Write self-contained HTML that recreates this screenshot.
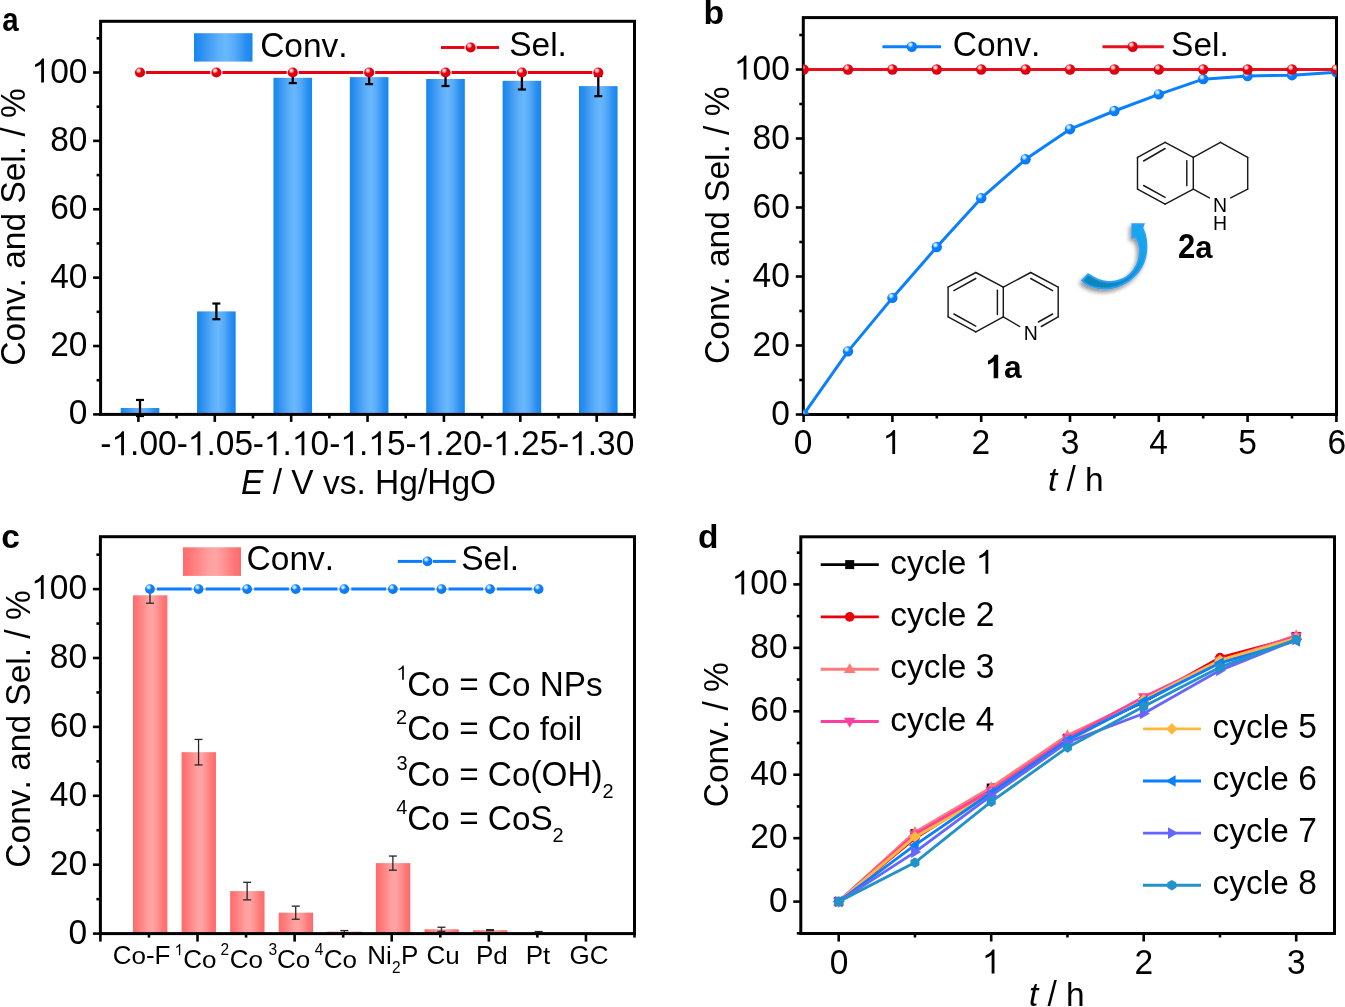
<!DOCTYPE html>
<html><head><meta charset="utf-8"><style>
html,body{margin:0;padding:0;background:#fff;overflow:hidden;}
svg{display:block;will-change:transform;}
text{font-family:"Liberation Sans", sans-serif;fill:#000;font-kerning:none;}
</style></head><body>
<svg width="1345" height="1007" viewBox="0 0 1345 1007">
<defs>
<radialGradient id="sphR" cx="0.38" cy="0.33" r="0.7" fx="0.36" fy="0.3">
 <stop offset="0" stop-color="#ffffff"/><stop offset="0.2" stop-color="#fbb0b0"/><stop offset="0.42" stop-color="#e8000f"/><stop offset="1" stop-color="#d8000e"/>
</radialGradient>
<radialGradient id="sphB" cx="0.38" cy="0.33" r="0.7" fx="0.36" fy="0.3">
 <stop offset="0" stop-color="#ffffff"/><stop offset="0.2" stop-color="#a8d4ff"/><stop offset="0.42" stop-color="#0a80ff"/><stop offset="1" stop-color="#0a78f0"/>
</radialGradient>
<linearGradient id="barB" x1="0" x2="1" y1="0" y2="0">
 <stop offset="0" stop-color="#1487ee"/><stop offset="0.12" stop-color="#2a8ef0"/><stop offset="0.3" stop-color="#4ca2f4"/><stop offset="0.45" stop-color="#62b2fb"/><stop offset="0.55" stop-color="#68b8fd"/><stop offset="0.7" stop-color="#56aaf8"/><stop offset="0.88" stop-color="#2a8ef0"/><stop offset="1" stop-color="#1487ee"/>
</linearGradient>
<linearGradient id="barR" x1="0" x2="1" y1="0" y2="0">
 <stop offset="0" stop-color="#ff6b6b"/><stop offset="0.12" stop-color="#ff7676"/><stop offset="0.3" stop-color="#ff8c8c"/><stop offset="0.45" stop-color="#ffa0a0"/><stop offset="0.58" stop-color="#ffa3a3"/><stop offset="0.72" stop-color="#ff9090"/><stop offset="0.88" stop-color="#ff7676"/><stop offset="1" stop-color="#ff6a6a"/>
</linearGradient>
<linearGradient id="arrG" gradientUnits="userSpaceOnUse" x1="1100" y1="288" x2="1140" y2="225">
 <stop offset="0" stop-color="#0886b8"/><stop offset="0.35" stop-color="#0a90c8"/><stop offset="0.6" stop-color="#12a0e4"/><stop offset="1" stop-color="#14a8f0"/>
</linearGradient>
<filter id="shadow" x="-30%" y="-30%" width="160%" height="160%">
 <feGaussianBlur in="SourceAlpha" stdDeviation="2.3"/><feOffset dx="-2" dy="3" result="ob"/>
 <feComponentTransfer><feFuncA type="linear" slope="0.42"/></feComponentTransfer>
 <feMerge><feMergeNode/><feMergeNode in="SourceGraphic"/></feMerge>
</filter>
</defs>
<rect width="1345" height="1007" fill="#fff"/>
<rect x="120.70" y="408.01" width="38.6" height="6.39" fill="url(#barB)"/>
<rect x="197.08" y="311.39" width="38.6" height="103.01" fill="url(#barB)"/>
<rect x="273.46" y="77.80" width="38.6" height="336.60" fill="url(#barB)"/>
<rect x="349.84" y="77.12" width="38.6" height="337.28" fill="url(#barB)"/>
<rect x="426.22" y="79.00" width="38.6" height="335.40" fill="url(#barB)"/>
<rect x="502.60" y="80.81" width="38.6" height="333.59" fill="url(#barB)"/>
<rect x="578.98" y="86.11" width="38.6" height="328.29" fill="url(#barB)"/>
<line x1="140.00" y1="399.97" x2="140.00" y2="416.04" stroke="#000" stroke-width="2.3"/>
<line x1="136.00" y1="399.97" x2="144.00" y2="399.97" stroke="#000" stroke-width="2.2"/>
<line x1="136.00" y1="416.04" x2="144.00" y2="416.04" stroke="#000" stroke-width="2.2"/>
<line x1="216.38" y1="303.52" x2="216.38" y2="319.25" stroke="#000" stroke-width="2.3"/>
<line x1="212.38" y1="303.52" x2="220.38" y2="303.52" stroke="#000" stroke-width="2.2"/>
<line x1="212.38" y1="319.25" x2="220.38" y2="319.25" stroke="#000" stroke-width="2.2"/>
<line x1="292.76" y1="72.50" x2="292.76" y2="83.10" stroke="#000" stroke-width="2.3"/>
<line x1="288.76" y1="72.50" x2="296.76" y2="72.50" stroke="#000" stroke-width="2.2"/>
<line x1="288.76" y1="83.10" x2="296.76" y2="83.10" stroke="#000" stroke-width="2.2"/>
<line x1="369.14" y1="70.11" x2="369.14" y2="84.12" stroke="#000" stroke-width="2.3"/>
<line x1="365.14" y1="70.11" x2="373.14" y2="70.11" stroke="#000" stroke-width="2.2"/>
<line x1="365.14" y1="84.12" x2="373.14" y2="84.12" stroke="#000" stroke-width="2.2"/>
<line x1="445.52" y1="71.99" x2="445.52" y2="86.01" stroke="#000" stroke-width="2.3"/>
<line x1="441.52" y1="71.99" x2="449.52" y2="71.99" stroke="#000" stroke-width="2.2"/>
<line x1="441.52" y1="86.01" x2="449.52" y2="86.01" stroke="#000" stroke-width="2.2"/>
<line x1="521.90" y1="72.12" x2="521.90" y2="89.49" stroke="#000" stroke-width="2.3"/>
<line x1="517.90" y1="72.12" x2="525.90" y2="72.12" stroke="#000" stroke-width="2.2"/>
<line x1="517.90" y1="89.49" x2="525.90" y2="89.49" stroke="#000" stroke-width="2.2"/>
<line x1="598.28" y1="76.02" x2="598.28" y2="96.19" stroke="#000" stroke-width="2.3"/>
<line x1="594.28" y1="76.02" x2="602.28" y2="76.02" stroke="#000" stroke-width="2.2"/>
<line x1="594.28" y1="96.19" x2="602.28" y2="96.19" stroke="#000" stroke-width="2.2"/>
<line x1="146.00" y1="72.50" x2="210.38" y2="72.50" stroke="#e60012" stroke-width="2.9"/>
<line x1="222.38" y1="72.50" x2="286.76" y2="72.50" stroke="#e60012" stroke-width="2.9"/>
<line x1="298.76" y1="72.50" x2="363.14" y2="72.50" stroke="#e60012" stroke-width="2.9"/>
<line x1="375.14" y1="72.50" x2="439.52" y2="72.50" stroke="#e60012" stroke-width="2.9"/>
<line x1="451.52" y1="72.50" x2="515.90" y2="72.50" stroke="#e60012" stroke-width="2.9"/>
<line x1="527.90" y1="72.50" x2="592.28" y2="72.50" stroke="#e60012" stroke-width="2.9"/>
<circle cx="140.00" cy="72.50" r="5.10" fill="url(#sphR)"/>
<circle cx="216.38" cy="72.50" r="5.10" fill="url(#sphR)"/>
<circle cx="292.76" cy="72.50" r="5.10" fill="url(#sphR)"/>
<circle cx="369.14" cy="72.50" r="5.10" fill="url(#sphR)"/>
<circle cx="445.52" cy="72.50" r="5.10" fill="url(#sphR)"/>
<circle cx="521.90" cy="72.50" r="5.10" fill="url(#sphR)"/>
<circle cx="598.28" cy="72.50" r="5.10" fill="url(#sphR)"/>
<rect x="100.6" y="21.3" width="533.90" height="393.10" fill="none" stroke="#000" stroke-width="3.0"/>
<line x1="93.10" y1="414.40" x2="100.60" y2="414.40" stroke="#000" stroke-width="2.6"/>
<line x1="96.60" y1="380.21" x2="100.60" y2="380.21" stroke="#000" stroke-width="2.6"/>
<line x1="93.10" y1="346.02" x2="100.60" y2="346.02" stroke="#000" stroke-width="2.6"/>
<line x1="96.60" y1="311.83" x2="100.60" y2="311.83" stroke="#000" stroke-width="2.6"/>
<line x1="93.10" y1="277.64" x2="100.60" y2="277.64" stroke="#000" stroke-width="2.6"/>
<line x1="96.60" y1="243.45" x2="100.60" y2="243.45" stroke="#000" stroke-width="2.6"/>
<line x1="93.10" y1="209.26" x2="100.60" y2="209.26" stroke="#000" stroke-width="2.6"/>
<line x1="96.60" y1="175.07" x2="100.60" y2="175.07" stroke="#000" stroke-width="2.6"/>
<line x1="93.10" y1="140.88" x2="100.60" y2="140.88" stroke="#000" stroke-width="2.6"/>
<line x1="96.60" y1="106.69" x2="100.60" y2="106.69" stroke="#000" stroke-width="2.6"/>
<line x1="93.10" y1="72.50" x2="100.60" y2="72.50" stroke="#000" stroke-width="2.6"/>
<line x1="96.60" y1="38.31" x2="100.60" y2="38.31" stroke="#000" stroke-width="2.6"/>
<text transform=" translate(68.78,424.40) scale(1.0,1.045)" font-size="33.5" fill="#000">0</text>
<text transform=" translate(50.15,356.02) scale(1.0,1.045)" font-size="33.5" fill="#000">20</text>
<text transform=" translate(50.15,287.64) scale(1.0,1.045)" font-size="33.5" fill="#000">40</text>
<text transform=" translate(50.15,219.26) scale(1.0,1.045)" font-size="33.5" fill="#000">60</text>
<text transform=" translate(50.15,150.88) scale(1.0,1.045)" font-size="33.5" fill="#000">80</text>
<path transform=" translate(31.52,82.50) scale(0.01636,-0.01636)" d="M590,0 L763,0 L763,1466 L651,1466 C606,1380 466,1200 216,1102 L216,947 C366,1000 496,1070 590,1138 Z" fill="#000"/>
<text transform=" translate(50.15,82.50) scale(1.0,1.045)" font-size="33.5" fill="#000">00</text>
<line x1="138.40" y1="414.40" x2="138.40" y2="421.90" stroke="#000" stroke-width="2.6"/>
<line x1="214.78" y1="414.40" x2="214.78" y2="421.90" stroke="#000" stroke-width="2.6"/>
<line x1="291.16" y1="414.40" x2="291.16" y2="421.90" stroke="#000" stroke-width="2.6"/>
<line x1="367.54" y1="414.40" x2="367.54" y2="421.90" stroke="#000" stroke-width="2.6"/>
<line x1="443.92" y1="414.40" x2="443.92" y2="421.90" stroke="#000" stroke-width="2.6"/>
<line x1="520.30" y1="414.40" x2="520.30" y2="421.90" stroke="#000" stroke-width="2.6"/>
<line x1="596.68" y1="414.40" x2="596.68" y2="421.90" stroke="#000" stroke-width="2.6"/>
<line x1="176.59" y1="414.40" x2="176.59" y2="418.40" stroke="#000" stroke-width="2.6"/>
<line x1="252.97" y1="414.40" x2="252.97" y2="418.40" stroke="#000" stroke-width="2.6"/>
<line x1="329.35" y1="414.40" x2="329.35" y2="418.40" stroke="#000" stroke-width="2.6"/>
<line x1="405.73" y1="414.40" x2="405.73" y2="418.40" stroke="#000" stroke-width="2.6"/>
<line x1="482.11" y1="414.40" x2="482.11" y2="418.40" stroke="#000" stroke-width="2.6"/>
<line x1="558.49" y1="414.40" x2="558.49" y2="418.40" stroke="#000" stroke-width="2.6"/>
<line x1="634.50" y1="414.40" x2="634.50" y2="418.40" stroke="#000" stroke-width="2.6"/>
<text transform=" translate(100.33,455.20) scale(1.0,1.045)" font-size="33.5" fill="#000">-</text>
<path transform=" translate(111.49,455.20) scale(0.01636,-0.01636)" d="M590,0 L763,0 L763,1466 L651,1466 C606,1380 466,1200 216,1102 L216,947 C366,1000 496,1070 590,1138 Z" fill="#000"/>
<text transform=" translate(130.12,455.20) scale(1.0,1.045)" font-size="33.5" fill="#000">.00</text>
<text transform=" translate(176.66,455.20) scale(1.0,1.045)" font-size="33.5" fill="#000">-</text>
<path transform=" translate(187.82,455.20) scale(0.01636,-0.01636)" d="M590,0 L763,0 L763,1466 L651,1466 C606,1380 466,1200 216,1102 L216,947 C366,1000 496,1070 590,1138 Z" fill="#000"/>
<text transform=" translate(206.45,455.20) scale(1.0,1.045)" font-size="33.5" fill="#000">.05</text>
<text transform=" translate(252.79,455.20) scale(1.0,1.045)" font-size="33.5" fill="#000">-</text>
<path transform=" translate(263.95,455.20) scale(0.01636,-0.01636)" d="M590,0 L763,0 L763,1466 L651,1466 C606,1380 466,1200 216,1102 L216,947 C366,1000 496,1070 590,1138 Z" fill="#000"/>
<text transform=" translate(282.58,455.20) scale(1.0,1.045)" font-size="33.5" fill="#000">.</text>
<path transform=" translate(291.89,455.20) scale(0.01636,-0.01636)" d="M590,0 L763,0 L763,1466 L651,1466 C606,1380 466,1200 216,1102 L216,947 C366,1000 496,1070 590,1138 Z" fill="#000"/>
<text transform=" translate(310.52,455.20) scale(1.0,1.045)" font-size="33.5" fill="#000">0</text>
<text transform=" translate(329.22,455.20) scale(1.0,1.045)" font-size="33.5" fill="#000">-</text>
<path transform=" translate(340.38,455.20) scale(0.01636,-0.01636)" d="M590,0 L763,0 L763,1466 L651,1466 C606,1380 466,1200 216,1102 L216,947 C366,1000 496,1070 590,1138 Z" fill="#000"/>
<text transform=" translate(359.01,455.20) scale(1.0,1.045)" font-size="33.5" fill="#000">.</text>
<path transform=" translate(368.32,455.20) scale(0.01636,-0.01636)" d="M590,0 L763,0 L763,1466 L651,1466 C606,1380 466,1200 216,1102 L216,947 C366,1000 496,1070 590,1138 Z" fill="#000"/>
<text transform=" translate(386.95,455.20) scale(1.0,1.045)" font-size="33.5" fill="#000">5</text>
<text transform=" translate(405.50,455.20) scale(1.0,1.045)" font-size="33.5" fill="#000">-</text>
<path transform=" translate(416.66,455.20) scale(0.01636,-0.01636)" d="M590,0 L763,0 L763,1466 L651,1466 C606,1380 466,1200 216,1102 L216,947 C366,1000 496,1070 590,1138 Z" fill="#000"/>
<text transform=" translate(435.29,455.20) scale(1.0,1.045)" font-size="33.5" fill="#000">.20</text>
<text transform=" translate(481.93,455.20) scale(1.0,1.045)" font-size="33.5" fill="#000">-</text>
<path transform=" translate(493.09,455.20) scale(0.01636,-0.01636)" d="M590,0 L763,0 L763,1466 L651,1466 C606,1380 466,1200 216,1102 L216,947 C366,1000 496,1070 590,1138 Z" fill="#000"/>
<text transform=" translate(511.72,455.20) scale(1.0,1.045)" font-size="33.5" fill="#000">.25</text>
<text transform=" translate(558.01,455.20) scale(1.0,1.045)" font-size="33.5" fill="#000">-</text>
<path transform=" translate(569.17,455.20) scale(0.01636,-0.01636)" d="M590,0 L763,0 L763,1466 L651,1466 C606,1380 466,1200 216,1102 L216,947 C366,1000 496,1070 590,1138 Z" fill="#000"/>
<text transform=" translate(587.80,455.20) scale(1.0,1.045)" font-size="33.5" fill="#000">.30</text>
<text transform=" translate(241.05,493.60) scale(1.0,1.045)" font-size="33.5" font-style="italic" fill="#000">E</text>
<text transform=" translate(272.70,493.60) scale(1.0,1.045)" font-size="33.5" fill="#000">/</text>
<text transform=" translate(291.32,493.60) scale(1.0,1.045)" font-size="33.5" fill="#000">V</text>
<text transform=" translate(322.97,493.60) scale(1.0,0.98)" font-size="33.5" fill="#000">vs</text>
<text transform=" translate(356.47,493.60) scale(1.0,1.045)" font-size="33.5" fill="#000">.</text>
<text transform=" translate(375.08,493.60) scale(1.0,1.045)" font-size="33.5" fill="#000">H</text>
<text transform=" translate(399.27,493.60) scale(1.0,0.98)" font-size="33.5" fill="#000">g</text>
<text transform=" translate(417.91,493.60) scale(1.0,1.045)" font-size="33.5" fill="#000">/H</text>
<text transform=" translate(451.41,493.60) scale(1.0,0.98)" font-size="33.5" fill="#000">g</text>
<text transform=" translate(470.04,493.60) scale(1.0,1.045)" font-size="33.5" fill="#000">O</text>
<text transform="translate(25.20,226.65) rotate(-90) translate(-138.98,0.00) scale(1.0,1.045)" font-size="33.5" fill="#000">C</text>
<text transform="translate(25.20,226.65) rotate(-90) translate(-114.79,0.00) scale(1.0,0.98)" font-size="33.5" fill="#000">onv</text>
<text transform="translate(25.20,226.65) rotate(-90) translate(-60.78,0.00) scale(1.0,1.045)" font-size="33.5" fill="#000">.</text>
<text transform="translate(25.20,226.65) rotate(-90) translate(-42.16,0.00) scale(1.0,0.98)" font-size="33.5" fill="#000">and</text>
<text transform="translate(25.20,226.65) rotate(-90) translate(23.04,0.00) scale(1.0,1.045)" font-size="33.5" fill="#000">S</text>
<text transform="translate(25.20,226.65) rotate(-90) translate(45.38,0.00) scale(1.0,0.98)" font-size="33.5" fill="#000">el</text>
<text transform="translate(25.20,226.65) rotate(-90) translate(71.46,0.00) scale(1.0,1.045)" font-size="33.5" fill="#000">.</text>
<text transform="translate(25.20,226.65) rotate(-90) translate(90.07,0.00) scale(1.0,1.045)" font-size="33.5" fill="#000">/</text>
<text transform="translate(25.20,226.65) rotate(-90) translate(108.69,0.00) scale(1.0,1.045)" font-size="33.5" fill="#000">%</text>
<rect x="194" y="33.2" width="58.5" height="28.4" fill="url(#barB)"/>
<text transform=" translate(260.14,56.60) scale(1.0,1.045)" font-size="33.5" fill="#000">C</text>
<text transform=" translate(284.33,56.60) scale(1.0,0.98)" font-size="33.5" fill="#000">onv</text>
<text transform=" translate(338.34,56.60) scale(1.0,1.045)" font-size="33.5" fill="#000">.</text>
<line x1="441.00" y1="47.50" x2="464.50" y2="47.50" stroke="#e60012" stroke-width="2.9"/>
<line x1="476.70" y1="47.50" x2="499.00" y2="47.50" stroke="#e60012" stroke-width="2.9"/>
<circle cx="470.60" cy="47.50" r="5.10" fill="url(#sphR)"/>
<text transform=" translate(509.18,56.40) scale(1.0,1.045)" font-size="33.5" fill="#000">S</text>
<text transform=" translate(531.52,56.40) scale(1.0,0.98)" font-size="33.5" fill="#000">el</text>
<text transform=" translate(557.60,56.40) scale(1.0,1.045)" font-size="33.5" fill="#000">.</text>
<text transform=" translate(2.34,30.50) scale(0.95,1.045)" font-size="31" font-weight="bold" fill="#000">a</text>
<rect x="803.3" y="17.6" width="533.20" height="396.90" fill="none" stroke="#000" stroke-width="3.0"/>
<clipPath id="clipB"><rect x="803.30" y="17.60" width="533.20" height="396.90"/></clipPath>
<g clip-path="url(#clipB)">
<polyline points="803.60,414.50 848.00,351.37 892.40,297.89 936.80,247.00 981.20,198.18 1025.60,159.30 1070.00,129.19 1114.40,111.00 1158.80,94.34 1203.20,79.16 1247.60,76.06 1292.00,75.19 1336.40,72.26" fill="none" stroke="#0a80ff" stroke-width="3" stroke-linejoin="round"/>
<circle cx="803.60" cy="414.50" r="5.20" fill="url(#sphB)"/>
<circle cx="848.00" cy="351.37" r="5.20" fill="url(#sphB)"/>
<circle cx="892.40" cy="297.89" r="5.20" fill="url(#sphB)"/>
<circle cx="936.80" cy="247.00" r="5.20" fill="url(#sphB)"/>
<circle cx="981.20" cy="198.18" r="5.20" fill="url(#sphB)"/>
<circle cx="1025.60" cy="159.30" r="5.20" fill="url(#sphB)"/>
<circle cx="1070.00" cy="129.19" r="5.20" fill="url(#sphB)"/>
<circle cx="1114.40" cy="111.00" r="5.20" fill="url(#sphB)"/>
<circle cx="1158.80" cy="94.34" r="5.20" fill="url(#sphB)"/>
<circle cx="1203.20" cy="79.16" r="5.20" fill="url(#sphB)"/>
<circle cx="1247.60" cy="76.06" r="5.20" fill="url(#sphB)"/>
<circle cx="1292.00" cy="75.19" r="5.20" fill="url(#sphB)"/>
<circle cx="1336.40" cy="72.26" r="5.20" fill="url(#sphB)"/>
<line x1="803.30" y1="69.50" x2="1336.50" y2="69.50" stroke="#e8101e" stroke-width="3"/>
<circle cx="803.60" cy="69.50" r="5.20" fill="url(#sphR)"/>
<circle cx="848.00" cy="69.50" r="5.20" fill="url(#sphR)"/>
<circle cx="892.40" cy="69.50" r="5.20" fill="url(#sphR)"/>
<circle cx="936.80" cy="69.50" r="5.20" fill="url(#sphR)"/>
<circle cx="981.20" cy="69.50" r="5.20" fill="url(#sphR)"/>
<circle cx="1025.60" cy="69.50" r="5.20" fill="url(#sphR)"/>
<circle cx="1070.00" cy="69.50" r="5.20" fill="url(#sphR)"/>
<circle cx="1114.40" cy="69.50" r="5.20" fill="url(#sphR)"/>
<circle cx="1158.80" cy="69.50" r="5.20" fill="url(#sphR)"/>
<circle cx="1203.20" cy="69.50" r="5.20" fill="url(#sphR)"/>
<circle cx="1247.60" cy="69.50" r="5.20" fill="url(#sphR)"/>
<circle cx="1292.00" cy="69.50" r="5.20" fill="url(#sphR)"/>
<circle cx="1336.40" cy="69.50" r="5.20" fill="url(#sphR)"/>
</g>
<line x1="795.80" y1="414.50" x2="803.30" y2="414.50" stroke="#000" stroke-width="2.6"/>
<line x1="799.30" y1="380.00" x2="803.30" y2="380.00" stroke="#000" stroke-width="2.6"/>
<line x1="795.80" y1="345.50" x2="803.30" y2="345.50" stroke="#000" stroke-width="2.6"/>
<line x1="799.30" y1="311.00" x2="803.30" y2="311.00" stroke="#000" stroke-width="2.6"/>
<line x1="795.80" y1="276.50" x2="803.30" y2="276.50" stroke="#000" stroke-width="2.6"/>
<line x1="799.30" y1="242.00" x2="803.30" y2="242.00" stroke="#000" stroke-width="2.6"/>
<line x1="795.80" y1="207.50" x2="803.30" y2="207.50" stroke="#000" stroke-width="2.6"/>
<line x1="799.30" y1="173.00" x2="803.30" y2="173.00" stroke="#000" stroke-width="2.6"/>
<line x1="795.80" y1="138.50" x2="803.30" y2="138.50" stroke="#000" stroke-width="2.6"/>
<line x1="799.30" y1="104.00" x2="803.30" y2="104.00" stroke="#000" stroke-width="2.6"/>
<line x1="795.80" y1="69.50" x2="803.30" y2="69.50" stroke="#000" stroke-width="2.6"/>
<line x1="799.30" y1="35.00" x2="803.30" y2="35.00" stroke="#000" stroke-width="2.6"/>
<text transform=" translate(771.18,424.50) scale(1.0,1.045)" font-size="33.5" fill="#000">0</text>
<text transform=" translate(752.55,355.50) scale(1.0,1.045)" font-size="33.5" fill="#000">20</text>
<text transform=" translate(752.55,286.50) scale(1.0,1.045)" font-size="33.5" fill="#000">40</text>
<text transform=" translate(752.55,217.50) scale(1.0,1.045)" font-size="33.5" fill="#000">60</text>
<text transform=" translate(752.55,148.50) scale(1.0,1.045)" font-size="33.5" fill="#000">80</text>
<path transform=" translate(733.92,79.50) scale(0.01636,-0.01636)" d="M590,0 L763,0 L763,1466 L651,1466 C606,1380 466,1200 216,1102 L216,947 C366,1000 496,1070 590,1138 Z" fill="#000"/>
<text transform=" translate(752.55,79.50) scale(1.0,1.045)" font-size="33.5" fill="#000">00</text>
<line x1="803.60" y1="414.50" x2="803.60" y2="422.00" stroke="#000" stroke-width="2.6"/>
<line x1="848.00" y1="414.50" x2="848.00" y2="418.50" stroke="#000" stroke-width="2.6"/>
<line x1="892.40" y1="414.50" x2="892.40" y2="422.00" stroke="#000" stroke-width="2.6"/>
<line x1="936.80" y1="414.50" x2="936.80" y2="418.50" stroke="#000" stroke-width="2.6"/>
<line x1="981.20" y1="414.50" x2="981.20" y2="422.00" stroke="#000" stroke-width="2.6"/>
<line x1="1025.60" y1="414.50" x2="1025.60" y2="418.50" stroke="#000" stroke-width="2.6"/>
<line x1="1070.00" y1="414.50" x2="1070.00" y2="422.00" stroke="#000" stroke-width="2.6"/>
<line x1="1114.40" y1="414.50" x2="1114.40" y2="418.50" stroke="#000" stroke-width="2.6"/>
<line x1="1158.80" y1="414.50" x2="1158.80" y2="422.00" stroke="#000" stroke-width="2.6"/>
<line x1="1203.20" y1="414.50" x2="1203.20" y2="418.50" stroke="#000" stroke-width="2.6"/>
<line x1="1247.60" y1="414.50" x2="1247.60" y2="422.00" stroke="#000" stroke-width="2.6"/>
<line x1="1292.00" y1="414.50" x2="1292.00" y2="418.50" stroke="#000" stroke-width="2.6"/>
<line x1="1336.40" y1="414.50" x2="1336.40" y2="422.00" stroke="#000" stroke-width="2.6"/>
<text transform=" translate(793.78,453.90) scale(1.0,1.045)" font-size="33.5" fill="#000">0</text>
<path transform=" translate(882.64,453.90) scale(0.01636,-0.01636)" d="M590,0 L763,0 L763,1466 L651,1466 C606,1380 466,1200 216,1102 L216,947 C366,1000 496,1070 590,1138 Z" fill="#000"/>
<text transform=" translate(971.53,453.90) scale(1.0,1.045)" font-size="33.5" fill="#000">2</text>
<text transform=" translate(1060.78,453.90) scale(1.0,1.045)" font-size="33.5" fill="#000">3</text>
<text transform=" translate(1149.14,453.90) scale(1.0,1.045)" font-size="33.5" fill="#000">4</text>
<text transform=" translate(1238.32,453.90) scale(1.0,1.045)" font-size="33.5" fill="#000">5</text>
<text transform=" translate(1327.52,453.90) scale(1.0,1.045)" font-size="33.5" fill="#000">6</text>
<text transform=" translate(1047.88,490.50) scale(1.0,0.98)" font-size="33.5" font-style="italic" fill="#000">t</text>
<text transform=" translate(1066.49,490.50) scale(1.0,1.045)" font-size="33.5" fill="#000">/</text>
<text transform=" translate(1085.11,490.50) scale(1.0,0.98)" font-size="33.5" fill="#000">h</text>
<text transform="translate(728.60,224.95) rotate(-90) translate(-138.98,0.00) scale(1.0,1.045)" font-size="33.5" fill="#000">C</text>
<text transform="translate(728.60,224.95) rotate(-90) translate(-114.79,0.00) scale(1.0,0.98)" font-size="33.5" fill="#000">onv</text>
<text transform="translate(728.60,224.95) rotate(-90) translate(-60.78,0.00) scale(1.0,1.045)" font-size="33.5" fill="#000">.</text>
<text transform="translate(728.60,224.95) rotate(-90) translate(-42.16,0.00) scale(1.0,0.98)" font-size="33.5" fill="#000">and</text>
<text transform="translate(728.60,224.95) rotate(-90) translate(23.04,0.00) scale(1.0,1.045)" font-size="33.5" fill="#000">S</text>
<text transform="translate(728.60,224.95) rotate(-90) translate(45.38,0.00) scale(1.0,0.98)" font-size="33.5" fill="#000">el</text>
<text transform="translate(728.60,224.95) rotate(-90) translate(71.46,0.00) scale(1.0,1.045)" font-size="33.5" fill="#000">.</text>
<text transform="translate(728.60,224.95) rotate(-90) translate(90.07,0.00) scale(1.0,1.045)" font-size="33.5" fill="#000">/</text>
<text transform="translate(728.60,224.95) rotate(-90) translate(108.69,0.00) scale(1.0,1.045)" font-size="33.5" fill="#000">%</text>
<line x1="882.40" y1="46.70" x2="941.00" y2="46.70" stroke="#0a80ff" stroke-width="3"/>
<circle cx="911.80" cy="46.70" r="5.20" fill="url(#sphB)"/>
<text transform=" translate(952.80,55.50) scale(1.0,1.045)" font-size="33.5" fill="#000">C</text>
<text transform=" translate(976.99,55.50) scale(1.0,0.98)" font-size="33.5" fill="#000">onv</text>
<text transform=" translate(1031.00,55.50) scale(1.0,1.045)" font-size="33.5" fill="#000">.</text>
<line x1="1102.50" y1="46.70" x2="1163.80" y2="46.70" stroke="#e8101e" stroke-width="3"/>
<circle cx="1132.70" cy="46.70" r="5.20" fill="url(#sphR)"/>
<text transform=" translate(1171.08,55.50) scale(1.0,1.045)" font-size="33.5" fill="#000">S</text>
<text transform=" translate(1193.42,55.50) scale(1.0,0.98)" font-size="33.5" fill="#000">el</text>
<text transform=" translate(1219.50,55.50) scale(1.0,1.045)" font-size="33.5" fill="#000">.</text>
<text transform=" translate(703.57,24.10) scale(1.09,1.045)" font-size="31" font-weight="bold" fill="#000">b</text>
<rect x="132.98" y="595.30" width="34.4" height="338.30" fill="url(#barR)"/>
<rect x="181.56" y="752.19" width="34.4" height="181.41" fill="url(#barR)"/>
<rect x="230.14" y="891.09" width="34.4" height="42.51" fill="url(#barR)"/>
<rect x="278.72" y="912.69" width="34.4" height="20.91" fill="url(#barR)"/>
<rect x="327.30" y="931.60" width="34.4" height="2.00" fill="url(#barR)"/>
<rect x="375.88" y="863.12" width="34.4" height="70.48" fill="url(#barR)"/>
<rect x="424.46" y="929.29" width="34.4" height="4.31" fill="url(#barR)"/>
<rect x="473.04" y="930.19" width="34.4" height="3.41" fill="url(#barR)"/>
<rect x="521.62" y="932.74" width="34.4" height="0.86" fill="url(#barR)"/>
<line x1="149.98" y1="587.38" x2="149.98" y2="603.22" stroke="#262626" stroke-width="1.3"/>
<line x1="145.98" y1="587.38" x2="153.98" y2="587.38" stroke="#262626" stroke-width="1.3"/>
<line x1="145.98" y1="603.22" x2="153.98" y2="603.22" stroke="#262626" stroke-width="1.3"/>
<line x1="198.56" y1="739.44" x2="198.56" y2="764.93" stroke="#262626" stroke-width="1.3"/>
<line x1="194.56" y1="739.44" x2="202.56" y2="739.44" stroke="#262626" stroke-width="1.3"/>
<line x1="194.56" y1="764.93" x2="202.56" y2="764.93" stroke="#262626" stroke-width="1.3"/>
<line x1="247.14" y1="882.30" x2="247.14" y2="899.87" stroke="#262626" stroke-width="1.3"/>
<line x1="243.14" y1="882.30" x2="251.14" y2="882.30" stroke="#262626" stroke-width="1.3"/>
<line x1="243.14" y1="899.87" x2="251.14" y2="899.87" stroke="#262626" stroke-width="1.3"/>
<line x1="295.72" y1="906.14" x2="295.72" y2="919.23" stroke="#262626" stroke-width="1.3"/>
<line x1="291.72" y1="906.14" x2="299.72" y2="906.14" stroke="#262626" stroke-width="1.3"/>
<line x1="291.72" y1="919.23" x2="299.72" y2="919.23" stroke="#262626" stroke-width="1.3"/>
<line x1="344.30" y1="930.57" x2="344.30" y2="932.64" stroke="#262626" stroke-width="1.3"/>
<line x1="340.30" y1="930.57" x2="348.30" y2="930.57" stroke="#262626" stroke-width="1.3"/>
<line x1="340.30" y1="932.64" x2="348.30" y2="932.64" stroke="#262626" stroke-width="1.3"/>
<line x1="392.88" y1="856.05" x2="392.88" y2="870.18" stroke="#262626" stroke-width="1.3"/>
<line x1="388.88" y1="856.05" x2="396.88" y2="856.05" stroke="#262626" stroke-width="1.3"/>
<line x1="388.88" y1="870.18" x2="396.88" y2="870.18" stroke="#262626" stroke-width="1.3"/>
<line x1="441.46" y1="927.23" x2="441.46" y2="931.36" stroke="#262626" stroke-width="1.3"/>
<line x1="437.46" y1="927.23" x2="445.46" y2="927.23" stroke="#262626" stroke-width="1.3"/>
<line x1="437.46" y1="931.36" x2="445.46" y2="931.36" stroke="#262626" stroke-width="1.3"/>
<line x1="490.04" y1="929.67" x2="490.04" y2="930.71" stroke="#262626" stroke-width="1.3"/>
<line x1="486.04" y1="929.67" x2="494.04" y2="929.67" stroke="#262626" stroke-width="1.3"/>
<line x1="486.04" y1="930.71" x2="494.04" y2="930.71" stroke="#262626" stroke-width="1.3"/>
<line x1="538.62" y1="931.53" x2="538.62" y2="933.94" stroke="#262626" stroke-width="1.3"/>
<line x1="534.62" y1="931.53" x2="542.62" y2="931.53" stroke="#262626" stroke-width="1.3"/>
<line x1="534.62" y1="933.94" x2="542.62" y2="933.94" stroke="#262626" stroke-width="1.3"/>
<line x1="156.98" y1="589.10" x2="191.76" y2="589.10" stroke="#0a7cff" stroke-width="3"/>
<line x1="154.48" y1="589.10" x2="156.98" y2="589.10" stroke="#888" stroke-width="0.8"/>
<line x1="191.76" y1="589.10" x2="194.06" y2="589.10" stroke="#888" stroke-width="0.8"/>
<line x1="205.56" y1="589.10" x2="240.34" y2="589.10" stroke="#0a7cff" stroke-width="3"/>
<line x1="203.06" y1="589.10" x2="205.56" y2="589.10" stroke="#888" stroke-width="0.8"/>
<line x1="240.34" y1="589.10" x2="242.64" y2="589.10" stroke="#888" stroke-width="0.8"/>
<line x1="254.14" y1="589.10" x2="288.92" y2="589.10" stroke="#0a7cff" stroke-width="3"/>
<line x1="251.64" y1="589.10" x2="254.14" y2="589.10" stroke="#888" stroke-width="0.8"/>
<line x1="288.92" y1="589.10" x2="291.22" y2="589.10" stroke="#888" stroke-width="0.8"/>
<line x1="302.72" y1="589.10" x2="337.50" y2="589.10" stroke="#0a7cff" stroke-width="3"/>
<line x1="300.22" y1="589.10" x2="302.72" y2="589.10" stroke="#888" stroke-width="0.8"/>
<line x1="337.50" y1="589.10" x2="339.80" y2="589.10" stroke="#888" stroke-width="0.8"/>
<line x1="351.30" y1="589.10" x2="386.08" y2="589.10" stroke="#0a7cff" stroke-width="3"/>
<line x1="348.80" y1="589.10" x2="351.30" y2="589.10" stroke="#888" stroke-width="0.8"/>
<line x1="386.08" y1="589.10" x2="388.38" y2="589.10" stroke="#888" stroke-width="0.8"/>
<line x1="399.88" y1="589.10" x2="434.66" y2="589.10" stroke="#0a7cff" stroke-width="3"/>
<line x1="397.38" y1="589.10" x2="399.88" y2="589.10" stroke="#888" stroke-width="0.8"/>
<line x1="434.66" y1="589.10" x2="436.96" y2="589.10" stroke="#888" stroke-width="0.8"/>
<line x1="448.46" y1="589.10" x2="483.24" y2="589.10" stroke="#0a7cff" stroke-width="3"/>
<line x1="445.96" y1="589.10" x2="448.46" y2="589.10" stroke="#888" stroke-width="0.8"/>
<line x1="483.24" y1="589.10" x2="485.54" y2="589.10" stroke="#888" stroke-width="0.8"/>
<line x1="497.04" y1="589.10" x2="531.82" y2="589.10" stroke="#0a7cff" stroke-width="3"/>
<line x1="494.54" y1="589.10" x2="497.04" y2="589.10" stroke="#888" stroke-width="0.8"/>
<line x1="531.82" y1="589.10" x2="534.12" y2="589.10" stroke="#888" stroke-width="0.8"/>
<circle cx="149.98" cy="589.10" r="4.9" fill="url(#sphB)"/>
<circle cx="198.56" cy="589.10" r="4.9" fill="url(#sphB)"/>
<circle cx="247.14" cy="589.10" r="4.9" fill="url(#sphB)"/>
<circle cx="295.72" cy="589.10" r="4.9" fill="url(#sphB)"/>
<circle cx="344.30" cy="589.10" r="4.9" fill="url(#sphB)"/>
<circle cx="392.88" cy="589.10" r="4.9" fill="url(#sphB)"/>
<circle cx="441.46" cy="589.10" r="4.9" fill="url(#sphB)"/>
<circle cx="490.04" cy="589.10" r="4.9" fill="url(#sphB)"/>
<circle cx="538.62" cy="589.10" r="4.9" fill="url(#sphB)"/>
<rect x="100.4" y="536.7" width="534.10" height="396.90" fill="none" stroke="#000" stroke-width="3.0"/>
<line x1="92.90" y1="933.60" x2="100.40" y2="933.60" stroke="#000" stroke-width="2.6"/>
<line x1="96.40" y1="899.15" x2="100.40" y2="899.15" stroke="#000" stroke-width="2.6"/>
<line x1="92.90" y1="864.70" x2="100.40" y2="864.70" stroke="#000" stroke-width="2.6"/>
<line x1="96.40" y1="830.25" x2="100.40" y2="830.25" stroke="#000" stroke-width="2.6"/>
<line x1="92.90" y1="795.80" x2="100.40" y2="795.80" stroke="#000" stroke-width="2.6"/>
<line x1="96.40" y1="761.35" x2="100.40" y2="761.35" stroke="#000" stroke-width="2.6"/>
<line x1="92.90" y1="726.90" x2="100.40" y2="726.90" stroke="#000" stroke-width="2.6"/>
<line x1="96.40" y1="692.45" x2="100.40" y2="692.45" stroke="#000" stroke-width="2.6"/>
<line x1="92.90" y1="658.00" x2="100.40" y2="658.00" stroke="#000" stroke-width="2.6"/>
<line x1="96.40" y1="623.55" x2="100.40" y2="623.55" stroke="#000" stroke-width="2.6"/>
<line x1="92.90" y1="589.10" x2="100.40" y2="589.10" stroke="#000" stroke-width="2.6"/>
<line x1="96.40" y1="554.65" x2="100.40" y2="554.65" stroke="#000" stroke-width="2.6"/>
<text transform=" translate(68.48,943.60) scale(1.0,1.045)" font-size="33.5" fill="#000">0</text>
<text transform=" translate(49.85,874.70) scale(1.0,1.045)" font-size="33.5" fill="#000">20</text>
<text transform=" translate(49.85,805.80) scale(1.0,1.045)" font-size="33.5" fill="#000">40</text>
<text transform=" translate(49.85,736.90) scale(1.0,1.045)" font-size="33.5" fill="#000">60</text>
<text transform=" translate(49.85,668.00) scale(1.0,1.045)" font-size="33.5" fill="#000">80</text>
<path transform=" translate(31.22,599.10) scale(0.01636,-0.01636)" d="M590,0 L763,0 L763,1466 L651,1466 C606,1380 466,1200 216,1102 L216,947 C366,1000 496,1070 590,1138 Z" fill="#000"/>
<text transform=" translate(49.85,599.10) scale(1.0,1.045)" font-size="33.5" fill="#000">00</text>
<line x1="100.40" y1="933.60" x2="100.40" y2="941.60" stroke="#000" stroke-width="2.6"/>
<line x1="148.95" y1="933.60" x2="148.95" y2="937.60" stroke="#000" stroke-width="2.6"/>
<line x1="197.51" y1="933.60" x2="197.51" y2="941.60" stroke="#000" stroke-width="2.6"/>
<line x1="246.06" y1="933.60" x2="246.06" y2="937.60" stroke="#000" stroke-width="2.6"/>
<line x1="294.62" y1="933.60" x2="294.62" y2="941.60" stroke="#000" stroke-width="2.6"/>
<line x1="343.17" y1="933.60" x2="343.17" y2="937.60" stroke="#000" stroke-width="2.6"/>
<line x1="391.73" y1="933.60" x2="391.73" y2="941.60" stroke="#000" stroke-width="2.6"/>
<line x1="440.28" y1="933.60" x2="440.28" y2="937.60" stroke="#000" stroke-width="2.6"/>
<line x1="488.84" y1="933.60" x2="488.84" y2="941.60" stroke="#000" stroke-width="2.6"/>
<line x1="537.39" y1="933.60" x2="537.39" y2="937.60" stroke="#000" stroke-width="2.6"/>
<line x1="585.95" y1="933.60" x2="585.95" y2="941.60" stroke="#000" stroke-width="2.6"/>
<line x1="634.50" y1="933.60" x2="634.50" y2="937.60" stroke="#000" stroke-width="2.6"/>
<text transform=" translate(112.68,964.30) scale(1.04,1.045)" font-size="25.0" fill="#000">C</text>
<text transform=" translate(131.46,964.30) scale(1.04,0.98)" font-size="25.0" fill="#000">o</text>
<text transform=" translate(145.92,964.30) scale(1.04,1.045)" font-size="25.0" fill="#000">-F</text>
<path transform=" translate(174.47,955.20) scale(0.00757,-0.00757)" d="M590,0 L763,0 L763,1466 L651,1466 C606,1380 466,1200 216,1102 L216,947 C366,1000 496,1070 590,1138 Z" fill="#000"/>
<text transform=" translate(183.18,967.80) scale(1.04,1.045)" font-size="25.0" fill="#000">C</text>
<text transform=" translate(201.96,967.80) scale(1.04,0.98)" font-size="25.0" fill="#000">o</text>
<text transform=" translate(220.52,955.20) scale(1.0,1.045)" font-size="15.5" fill="#000">2</text>
<text transform=" translate(229.78,967.80) scale(1.04,1.045)" font-size="25.0" fill="#000">C</text>
<text transform=" translate(248.56,967.80) scale(1.04,0.98)" font-size="25.0" fill="#000">o</text>
<text transform=" translate(268.51,955.20) scale(1.0,1.045)" font-size="15.5" fill="#000">3</text>
<text transform=" translate(276.88,967.80) scale(1.04,1.045)" font-size="25.0" fill="#000">C</text>
<text transform=" translate(295.66,967.80) scale(1.04,0.98)" font-size="25.0" fill="#000">o</text>
<text transform=" translate(314.84,955.20) scale(1.0,1.045)" font-size="15.5" fill="#000">4</text>
<text transform=" translate(323.68,967.80) scale(1.04,1.045)" font-size="25.0" fill="#000">C</text>
<text transform=" translate(342.46,967.80) scale(1.04,0.98)" font-size="25.0" fill="#000">o</text>
<text transform=" translate(367.17,964.10) scale(1.04,1.045)" font-size="25.0" fill="#000">N</text>
<text transform=" translate(385.94,964.10) scale(1.04,0.98)" font-size="25.0" fill="#000">i</text>
<text transform=" translate(392.02,973.00) scale(1.0,1.045)" font-size="15.5" fill="#000">2</text>
<text transform=" translate(400.93,964.10) scale(1.04,1.045)" font-size="25.0" fill="#000">P</text>
<text transform=" translate(426.48,964.30) scale(1.04,1.045)" font-size="25.0" fill="#000">C</text>
<text transform=" translate(445.26,964.30) scale(1.04,0.98)" font-size="25.0" fill="#000">u</text>
<text transform=" translate(475.97,964.30) scale(1.04,1.045)" font-size="25.0" fill="#000">P</text>
<text transform=" translate(493.31,964.30) scale(1.04,0.98)" font-size="25.0" fill="#000">d</text>
<text transform=" translate(525.77,964.30) scale(1.04,1.045)" font-size="25.0" fill="#000">P</text>
<text transform=" translate(543.11,964.30) scale(1.04,0.98)" font-size="25.0" fill="#000">t</text>
<text transform=" translate(569.59,964.30) scale(1.04,1.045)" font-size="25.0" fill="#000">GC</text>
<text transform="translate(29.60,728.70) rotate(-90) translate(-138.98,0.00) scale(1.0,1.045)" font-size="33.5" fill="#000">C</text>
<text transform="translate(29.60,728.70) rotate(-90) translate(-114.79,0.00) scale(1.0,0.98)" font-size="33.5" fill="#000">onv</text>
<text transform="translate(29.60,728.70) rotate(-90) translate(-60.78,0.00) scale(1.0,1.045)" font-size="33.5" fill="#000">.</text>
<text transform="translate(29.60,728.70) rotate(-90) translate(-42.16,0.00) scale(1.0,0.98)" font-size="33.5" fill="#000">and</text>
<text transform="translate(29.60,728.70) rotate(-90) translate(23.04,0.00) scale(1.0,1.045)" font-size="33.5" fill="#000">S</text>
<text transform="translate(29.60,728.70) rotate(-90) translate(45.38,0.00) scale(1.0,0.98)" font-size="33.5" fill="#000">el</text>
<text transform="translate(29.60,728.70) rotate(-90) translate(71.46,0.00) scale(1.0,1.045)" font-size="33.5" fill="#000">.</text>
<text transform="translate(29.60,728.70) rotate(-90) translate(90.07,0.00) scale(1.0,1.045)" font-size="33.5" fill="#000">/</text>
<text transform="translate(29.60,728.70) rotate(-90) translate(108.69,0.00) scale(1.0,1.045)" font-size="33.5" fill="#000">%</text>
<text transform=" translate(1.19,548.30) scale(1.08,1.045)" font-size="31" font-weight="bold" fill="#000">c</text>
<rect x="183" y="547.3" width="58" height="28.6" fill="url(#barR)"/>
<text transform=" translate(246.60,570.00) scale(1.0,1.045)" font-size="33.5" fill="#000">C</text>
<text transform=" translate(270.79,570.00) scale(1.0,0.98)" font-size="33.5" fill="#000">onv</text>
<text transform=" translate(324.80,570.00) scale(1.0,1.045)" font-size="33.5" fill="#000">.</text>
<line x1="397.80" y1="561.40" x2="422.00" y2="561.40" stroke="#0a7cff" stroke-width="3"/>
<line x1="433.00" y1="561.40" x2="455.80" y2="561.40" stroke="#0a7cff" stroke-width="3"/>
<circle cx="427.5" cy="561.4" r="4.9" fill="url(#sphB)"/>
<text transform=" translate(461.28,570.00) scale(1.0,1.045)" font-size="33.5" fill="#000">S</text>
<text transform=" translate(483.62,570.00) scale(1.0,0.98)" font-size="33.5" fill="#000">el</text>
<text transform=" translate(509.70,570.00) scale(1.0,1.045)" font-size="33.5" fill="#000">.</text>
<path transform=" translate(396.39,679.70) scale(0.00977,-0.00977)" d="M590,0 L763,0 L763,1466 L651,1466 C606,1380 466,1200 216,1102 L216,947 C366,1000 496,1070 590,1138 Z" fill="#000"/>
<text transform=" translate(407.31,695.90) scale(1.0,1.045)" font-size="33.3" fill="#000">C</text>
<text transform=" translate(431.36,695.90) scale(1.0,0.98)" font-size="33.3" fill="#000">o</text>
<text transform=" translate(459.13,695.90) scale(1.0,1.045)" font-size="33.3" fill="#000">=</text>
<text transform=" translate(487.83,695.90) scale(1.0,1.045)" font-size="33.3" fill="#000">C</text>
<text transform=" translate(511.88,695.90) scale(1.0,0.98)" font-size="33.3" fill="#000">o</text>
<text transform=" translate(539.65,695.90) scale(1.0,1.045)" font-size="33.3" fill="#000">NP</text>
<text transform=" translate(585.91,695.90) scale(1.0,0.98)" font-size="33.3" fill="#000">s</text>
<text transform=" translate(395.99,723.90) scale(1.0,1.045)" font-size="20.0" fill="#000">2</text>
<text transform=" translate(407.31,740.10) scale(1.0,1.045)" font-size="33.3" fill="#000">C</text>
<text transform=" translate(431.36,740.10) scale(1.0,0.98)" font-size="33.3" fill="#000">o</text>
<text transform=" translate(459.13,740.10) scale(1.0,1.045)" font-size="33.3" fill="#000">=</text>
<text transform=" translate(487.83,740.10) scale(1.0,1.045)" font-size="33.3" fill="#000">C</text>
<text transform=" translate(511.88,740.10) scale(1.0,0.98)" font-size="33.3" fill="#000">o</text>
<text transform=" translate(539.65,740.10) scale(1.0,0.98)" font-size="33.3" fill="#000">foil</text>
<text transform=" translate(396.44,769.80) scale(1.0,1.045)" font-size="20.0" fill="#000">3</text>
<text transform=" translate(407.31,786.00) scale(1.0,1.045)" font-size="33.3" fill="#000">C</text>
<text transform=" translate(431.36,786.00) scale(1.0,0.98)" font-size="33.3" fill="#000">o</text>
<text transform=" translate(459.13,786.00) scale(1.0,1.045)" font-size="33.3" fill="#000">=</text>
<text transform=" translate(487.83,786.00) scale(1.0,1.045)" font-size="33.3" fill="#000">C</text>
<text transform=" translate(511.88,786.00) scale(1.0,0.98)" font-size="33.3" fill="#000">o</text>
<text transform=" translate(530.40,786.00) scale(1.0,1.045)" font-size="33.3" fill="#000">(OH)</text>
<text transform=" translate(602.52,797.50) scale(1.0,1.045)" font-size="20.0" fill="#000">2</text>
<text transform=" translate(396.34,814.20) scale(1.0,1.045)" font-size="20.0" fill="#000">4</text>
<text transform=" translate(407.31,830.40) scale(1.0,1.045)" font-size="33.3" fill="#000">C</text>
<text transform=" translate(431.36,830.40) scale(1.0,0.98)" font-size="33.3" fill="#000">o</text>
<text transform=" translate(459.13,830.40) scale(1.0,1.045)" font-size="33.3" fill="#000">=</text>
<text transform=" translate(487.83,830.40) scale(1.0,1.045)" font-size="33.3" fill="#000">C</text>
<text transform=" translate(511.88,830.40) scale(1.0,0.98)" font-size="33.3" fill="#000">o</text>
<text transform=" translate(530.40,830.40) scale(1.0,1.045)" font-size="33.3" fill="#000">S</text>
<text transform=" translate(552.61,841.90) scale(1.0,1.045)" font-size="20.0" fill="#000">2</text>
<polyline points="838.70,901.60 914.95,833.72 991.20,788.04 1067.45,738.24 1143.70,701.76 1219.95,660.53 1296.20,636.42" fill="none" stroke="#000000" stroke-width="2.9" stroke-linejoin="round"/>
<rect x="834.20" y="897.10" width="9.00" height="9.00" fill="#000000"/>
<rect x="910.45" y="829.22" width="9.00" height="9.00" fill="#000000"/>
<rect x="986.70" y="783.54" width="9.00" height="9.00" fill="#000000"/>
<rect x="1062.95" y="733.74" width="9.00" height="9.00" fill="#000000"/>
<rect x="1139.20" y="697.26" width="9.00" height="9.00" fill="#000000"/>
<rect x="1215.45" y="656.03" width="9.00" height="9.00" fill="#000000"/>
<rect x="1291.70" y="631.92" width="9.00" height="9.00" fill="#000000"/>
<polyline points="838.70,901.60 914.95,838.16 991.20,790.58 1067.45,738.24 1143.70,700.18 1219.95,657.67 1296.20,637.37" fill="none" stroke="#e8000b" stroke-width="2.9" stroke-linejoin="round"/>
<circle cx="838.70" cy="901.60" r="4.80" fill="#e8000b"/>
<circle cx="914.95" cy="838.16" r="4.80" fill="#e8000b"/>
<circle cx="991.20" cy="790.58" r="4.80" fill="#e8000b"/>
<circle cx="1067.45" cy="738.24" r="4.80" fill="#e8000b"/>
<circle cx="1143.70" cy="700.18" r="4.80" fill="#e8000b"/>
<circle cx="1219.95" cy="657.67" r="4.80" fill="#e8000b"/>
<circle cx="1296.20" cy="637.37" r="4.80" fill="#e8000b"/>
<polyline points="838.70,901.60 914.95,832.13 991.20,787.41 1067.45,735.39 1143.70,699.23 1219.95,662.11 1296.20,635.47" fill="none" stroke="#ff7b7b" stroke-width="2.9" stroke-linejoin="round"/>
<polygon points="838.70,895.40 844.50,905.40 832.90,905.40" fill="#ff7b7b"/>
<polygon points="914.95,825.93 920.75,835.93 909.15,835.93" fill="#ff7b7b"/>
<polygon points="991.20,781.21 997.00,791.21 985.40,791.21" fill="#ff7b7b"/>
<polygon points="1067.45,729.19 1073.25,739.19 1061.65,739.19" fill="#ff7b7b"/>
<polygon points="1143.70,693.03 1149.50,703.03 1137.90,703.03" fill="#ff7b7b"/>
<polygon points="1219.95,655.91 1225.75,665.91 1214.15,665.91" fill="#ff7b7b"/>
<polygon points="1296.20,629.27 1302.00,639.27 1290.40,639.27" fill="#ff7b7b"/>
<polyline points="838.70,901.60 914.95,834.35 991.20,790.58 1067.45,738.24 1143.70,697.01 1219.95,660.53 1296.20,636.42" fill="none" stroke="#ff3fa0" stroke-width="2.9" stroke-linejoin="round"/>
<polygon points="838.70,907.80 844.50,897.80 832.90,897.80" fill="#ff3fa0"/>
<polygon points="914.95,840.55 920.75,830.55 909.15,830.55" fill="#ff3fa0"/>
<polygon points="991.20,796.78 997.00,786.78 985.40,786.78" fill="#ff3fa0"/>
<polygon points="1067.45,744.44 1073.25,734.44 1061.65,734.44" fill="#ff3fa0"/>
<polygon points="1143.70,703.21 1149.50,693.21 1137.90,693.21" fill="#ff3fa0"/>
<polygon points="1219.95,666.73 1225.75,656.73 1214.15,656.73" fill="#ff3fa0"/>
<polygon points="1296.20,642.62 1302.00,632.62 1290.40,632.62" fill="#ff3fa0"/>
<polyline points="838.70,901.60 914.95,836.89 991.20,793.75 1067.45,741.41 1143.70,699.86 1219.95,660.21 1296.20,638.32" fill="none" stroke="#ffb83e" stroke-width="2.9" stroke-linejoin="round"/>
<polygon points="838.70,895.80 844.50,901.60 838.70,907.40 832.90,901.60" fill="#ffb83e"/>
<polygon points="914.95,831.09 920.75,836.89 914.95,842.69 909.15,836.89" fill="#ffb83e"/>
<polygon points="991.20,787.95 997.00,793.75 991.20,799.55 985.40,793.75" fill="#ffb83e"/>
<polygon points="1067.45,735.61 1073.25,741.41 1067.45,747.21 1061.65,741.41" fill="#ffb83e"/>
<polygon points="1143.70,694.06 1149.50,699.86 1143.70,705.66 1137.90,699.86" fill="#ffb83e"/>
<polygon points="1219.95,654.41 1225.75,660.21 1219.95,666.01 1214.15,660.21" fill="#ffb83e"/>
<polygon points="1296.20,632.52 1302.00,638.32 1296.20,644.12 1290.40,638.32" fill="#ffb83e"/>
<polyline points="838.70,901.60 914.95,845.14 991.20,792.80 1067.45,740.15 1143.70,701.13 1219.95,663.07 1296.20,640.86" fill="none" stroke="#0a80ff" stroke-width="2.9" stroke-linejoin="round"/>
<polygon points="832.50,901.60 842.50,895.80 842.50,907.40" fill="#0a80ff"/>
<polygon points="908.75,845.14 918.75,839.34 918.75,850.94" fill="#0a80ff"/>
<polygon points="985.00,792.80 995.00,787.00 995.00,798.60" fill="#0a80ff"/>
<polygon points="1061.25,740.15 1071.25,734.35 1071.25,745.95" fill="#0a80ff"/>
<polygon points="1137.50,701.13 1147.50,695.33 1147.50,706.93" fill="#0a80ff"/>
<polygon points="1213.75,663.07 1223.75,657.27 1223.75,668.87" fill="#0a80ff"/>
<polygon points="1290.00,640.86 1300.00,635.06 1300.00,646.66" fill="#0a80ff"/>
<polyline points="838.70,901.60 914.95,852.12 991.20,795.66 1067.45,742.37 1143.70,713.50 1219.95,670.36 1296.20,639.59" fill="none" stroke="#6666ff" stroke-width="2.9" stroke-linejoin="round"/>
<polygon points="844.90,901.60 834.90,895.80 834.90,907.40" fill="#6666ff"/>
<polygon points="921.15,852.12 911.15,846.32 911.15,857.92" fill="#6666ff"/>
<polygon points="997.40,795.66 987.40,789.86 987.40,801.46" fill="#6666ff"/>
<polygon points="1073.65,742.37 1063.65,736.57 1063.65,748.17" fill="#6666ff"/>
<polygon points="1149.90,713.50 1139.90,707.70 1139.90,719.30" fill="#6666ff"/>
<polygon points="1226.15,670.36 1216.15,664.56 1216.15,676.16" fill="#6666ff"/>
<polygon points="1302.40,639.59 1292.40,633.79 1292.40,645.39" fill="#6666ff"/>
<polyline points="838.70,901.60 914.95,862.58 991.20,801.68 1067.45,747.44 1143.70,706.52 1219.95,667.19 1296.20,639.59" fill="none" stroke="#2293c8" stroke-width="2.9" stroke-linejoin="round"/>
<polygon points="843.20,904.20 838.70,906.80 834.20,904.20 834.20,899.00 838.70,896.40 843.20,899.00" fill="#2293c8"/>
<polygon points="919.45,865.18 914.95,867.78 910.45,865.18 910.45,859.98 914.95,857.38 919.45,859.98" fill="#2293c8"/>
<polygon points="995.70,804.28 991.20,806.88 986.70,804.28 986.70,799.08 991.20,796.48 995.70,799.08" fill="#2293c8"/>
<polygon points="1071.95,750.04 1067.45,752.64 1062.95,750.04 1062.95,744.84 1067.45,742.24 1071.95,744.84" fill="#2293c8"/>
<polygon points="1148.20,709.12 1143.70,711.72 1139.20,709.12 1139.20,703.92 1143.70,701.32 1148.20,703.92" fill="#2293c8"/>
<polygon points="1224.45,669.79 1219.95,672.39 1215.45,669.79 1215.45,664.59 1219.95,661.99 1224.45,664.59" fill="#2293c8"/>
<polygon points="1300.70,642.19 1296.20,644.79 1291.70,642.19 1291.70,636.99 1296.20,634.39 1300.70,636.99" fill="#2293c8"/>
<rect x="800.8" y="536.8" width="533.70" height="396.70" fill="none" stroke="#000" stroke-width="3.0"/>
<line x1="796.80" y1="933.32" x2="800.80" y2="933.32" stroke="#000" stroke-width="2.6"/>
<line x1="793.30" y1="901.60" x2="800.80" y2="901.60" stroke="#000" stroke-width="2.6"/>
<line x1="796.80" y1="869.88" x2="800.80" y2="869.88" stroke="#000" stroke-width="2.6"/>
<line x1="793.30" y1="838.16" x2="800.80" y2="838.16" stroke="#000" stroke-width="2.6"/>
<line x1="796.80" y1="806.44" x2="800.80" y2="806.44" stroke="#000" stroke-width="2.6"/>
<line x1="793.30" y1="774.72" x2="800.80" y2="774.72" stroke="#000" stroke-width="2.6"/>
<line x1="796.80" y1="743.00" x2="800.80" y2="743.00" stroke="#000" stroke-width="2.6"/>
<line x1="793.30" y1="711.28" x2="800.80" y2="711.28" stroke="#000" stroke-width="2.6"/>
<line x1="796.80" y1="679.56" x2="800.80" y2="679.56" stroke="#000" stroke-width="2.6"/>
<line x1="793.30" y1="647.84" x2="800.80" y2="647.84" stroke="#000" stroke-width="2.6"/>
<line x1="796.80" y1="616.12" x2="800.80" y2="616.12" stroke="#000" stroke-width="2.6"/>
<line x1="793.30" y1="584.40" x2="800.80" y2="584.40" stroke="#000" stroke-width="2.6"/>
<line x1="796.80" y1="552.68" x2="800.80" y2="552.68" stroke="#000" stroke-width="2.6"/>
<text transform=" translate(768.98,911.60) scale(1.0,1.045)" font-size="33.5" fill="#000">0</text>
<text transform=" translate(750.35,848.16) scale(1.0,1.045)" font-size="33.5" fill="#000">20</text>
<text transform=" translate(750.35,784.72) scale(1.0,1.045)" font-size="33.5" fill="#000">40</text>
<text transform=" translate(750.35,721.28) scale(1.0,1.045)" font-size="33.5" fill="#000">60</text>
<text transform=" translate(750.35,657.84) scale(1.0,1.045)" font-size="33.5" fill="#000">80</text>
<path transform=" translate(731.72,594.40) scale(0.01636,-0.01636)" d="M590,0 L763,0 L763,1466 L651,1466 C606,1380 466,1200 216,1102 L216,947 C366,1000 496,1070 590,1138 Z" fill="#000"/>
<text transform=" translate(750.35,594.40) scale(1.0,1.045)" font-size="33.5" fill="#000">00</text>
<line x1="838.70" y1="933.50" x2="838.70" y2="941.50" stroke="#000" stroke-width="2.6"/>
<line x1="914.95" y1="933.50" x2="914.95" y2="937.50" stroke="#000" stroke-width="2.6"/>
<line x1="991.20" y1="933.50" x2="991.20" y2="941.50" stroke="#000" stroke-width="2.6"/>
<line x1="1067.45" y1="933.50" x2="1067.45" y2="937.50" stroke="#000" stroke-width="2.6"/>
<line x1="1143.70" y1="933.50" x2="1143.70" y2="941.50" stroke="#000" stroke-width="2.6"/>
<line x1="1219.95" y1="933.50" x2="1219.95" y2="937.50" stroke="#000" stroke-width="2.6"/>
<line x1="1296.20" y1="933.50" x2="1296.20" y2="941.50" stroke="#000" stroke-width="2.6"/>
<text transform=" translate(829.73,973.50) scale(1.0,1.045)" font-size="33.5" fill="#000">0</text>
<path transform=" translate(981.99,973.50) scale(0.01636,-0.01636)" d="M590,0 L763,0 L763,1466 L651,1466 C606,1380 466,1200 216,1102 L216,947 C366,1000 496,1070 590,1138 Z" fill="#000"/>
<text transform=" translate(1134.38,973.50) scale(1.0,1.045)" font-size="33.5" fill="#000">2</text>
<text transform=" translate(1287.08,973.50) scale(1.0,1.045)" font-size="33.5" fill="#000">3</text>
<text transform=" translate(1028.88,1005.70) scale(1.0,0.98)" font-size="33.5" font-style="italic" fill="#000">t</text>
<text transform=" translate(1047.49,1005.70) scale(1.0,1.045)" font-size="33.5" fill="#000">/</text>
<text transform=" translate(1066.11,1005.70) scale(1.0,0.98)" font-size="33.5" fill="#000">h</text>
<text transform="translate(727.60,734.45) rotate(-90) translate(-72.86,0.00) scale(1.0,1.045)" font-size="33.5" fill="#000">C</text>
<text transform="translate(727.60,734.45) rotate(-90) translate(-48.67,0.00) scale(1.0,0.98)" font-size="33.5" fill="#000">onv</text>
<text transform="translate(727.60,734.45) rotate(-90) translate(5.34,0.00) scale(1.0,1.045)" font-size="33.5" fill="#000">.</text>
<text transform="translate(727.60,734.45) rotate(-90) translate(23.96,0.00) scale(1.0,1.045)" font-size="33.5" fill="#000">/</text>
<text transform="translate(727.60,734.45) rotate(-90) translate(42.57,0.00) scale(1.0,1.045)" font-size="33.5" fill="#000">%</text>
<text transform=" translate(697.93,548.10) scale(1.08,1.045)" font-size="31" font-weight="bold" fill="#000">d</text>
<line x1="820.70" y1="564.60" x2="878.80" y2="564.60" stroke="#000000" stroke-width="2.9"/>
<rect x="845.20" y="560.10" width="9.00" height="9.00" fill="#000000"/>
<text transform=" translate(890.18,573.80) scale(1.0,0.98)" font-size="33.5" fill="#000">cycle</text>
<path transform=" translate(975.81,573.80) scale(0.01636,-0.01636)" d="M590,0 L763,0 L763,1466 L651,1466 C606,1380 466,1200 216,1102 L216,947 C366,1000 496,1070 590,1138 Z" fill="#000"/>
<line x1="820.70" y1="616.90" x2="878.80" y2="616.90" stroke="#e8000b" stroke-width="2.9"/>
<circle cx="849.70" cy="616.90" r="4.80" fill="#e8000b"/>
<text transform=" translate(890.18,626.10) scale(1.0,0.98)" font-size="33.5" fill="#000">cycle</text>
<text transform=" translate(975.81,626.10) scale(1.0,1.045)" font-size="33.5" fill="#000">2</text>
<line x1="820.70" y1="669.20" x2="878.80" y2="669.20" stroke="#ff7b7b" stroke-width="2.9"/>
<polygon points="849.70,663.00 855.50,673.00 843.90,673.00" fill="#ff7b7b"/>
<text transform=" translate(890.18,678.40) scale(1.0,0.98)" font-size="33.5" fill="#000">cycle</text>
<text transform=" translate(975.81,678.40) scale(1.0,1.045)" font-size="33.5" fill="#000">3</text>
<line x1="820.70" y1="721.50" x2="878.80" y2="721.50" stroke="#ff3fa0" stroke-width="2.9"/>
<polygon points="849.70,727.70 855.50,717.70 843.90,717.70" fill="#ff3fa0"/>
<text transform=" translate(890.18,730.70) scale(1.0,0.98)" font-size="33.5" fill="#000">cycle</text>
<text transform=" translate(975.81,730.70) scale(1.0,1.045)" font-size="33.5" fill="#000">4</text>
<line x1="1143.00" y1="728.90" x2="1201.00" y2="728.90" stroke="#ffb83e" stroke-width="2.9"/>
<polygon points="1171.80,723.10 1177.60,728.90 1171.80,734.70 1166.00,728.90" fill="#ffb83e"/>
<text transform=" translate(1212.58,737.90) scale(1.0,0.98)" font-size="33.5" fill="#000">cycle</text>
<text transform=" translate(1298.21,737.90) scale(1.0,1.045)" font-size="33.5" fill="#000">5</text>
<line x1="1143.00" y1="781.00" x2="1201.00" y2="781.00" stroke="#0a80ff" stroke-width="2.9"/>
<polygon points="1165.60,781.00 1175.60,775.20 1175.60,786.80" fill="#0a80ff"/>
<text transform=" translate(1212.58,790.00) scale(1.0,0.98)" font-size="33.5" fill="#000">cycle</text>
<text transform=" translate(1298.21,790.00) scale(1.0,1.045)" font-size="33.5" fill="#000">6</text>
<line x1="1143.00" y1="833.10" x2="1201.00" y2="833.10" stroke="#6666ff" stroke-width="2.9"/>
<polygon points="1178.00,833.10 1168.00,827.30 1168.00,838.90" fill="#6666ff"/>
<text transform=" translate(1212.58,842.10) scale(1.0,0.98)" font-size="33.5" fill="#000">cycle</text>
<text transform=" translate(1298.21,842.10) scale(1.0,1.045)" font-size="33.5" fill="#000">7</text>
<line x1="1143.00" y1="885.20" x2="1201.00" y2="885.20" stroke="#2293c8" stroke-width="2.9"/>
<polygon points="1176.30,887.80 1171.80,890.40 1167.30,887.80 1167.30,882.60 1171.80,880.00 1176.30,882.60" fill="#2293c8"/>
<text transform=" translate(1212.58,894.20) scale(1.0,0.98)" font-size="33.5" fill="#000">cycle</text>
<text transform=" translate(1298.21,894.20) scale(1.0,1.045)" font-size="33.5" fill="#000">8</text>
<line x1="975.80" y1="272.50" x2="948.10" y2="287.10" stroke="#1a1a1a" stroke-width="1.45" stroke-linecap="round"/>
<line x1="948.10" y1="287.10" x2="948.10" y2="316.80" stroke="#1a1a1a" stroke-width="1.45" stroke-linecap="round"/>
<line x1="948.10" y1="316.80" x2="975.80" y2="331.90" stroke="#1a1a1a" stroke-width="1.45" stroke-linecap="round"/>
<line x1="975.80" y1="331.90" x2="1003.30" y2="316.80" stroke="#1a1a1a" stroke-width="1.45" stroke-linecap="round"/>
<line x1="1003.30" y1="316.80" x2="1003.30" y2="287.10" stroke="#1a1a1a" stroke-width="1.45" stroke-linecap="round"/>
<line x1="1003.30" y1="287.10" x2="975.80" y2="272.50" stroke="#1a1a1a" stroke-width="1.45" stroke-linecap="round"/>
<line x1="1003.30" y1="287.10" x2="1030.70" y2="272.50" stroke="#1a1a1a" stroke-width="1.45" stroke-linecap="round"/>
<line x1="1030.70" y1="272.50" x2="1058.20" y2="287.10" stroke="#1a1a1a" stroke-width="1.45" stroke-linecap="round"/>
<line x1="1058.20" y1="287.10" x2="1058.20" y2="316.80" stroke="#1a1a1a" stroke-width="1.45" stroke-linecap="round"/>
<line x1="1058.20" y1="316.80" x2="1041.30" y2="326.50" stroke="#1a1a1a" stroke-width="1.45" stroke-linecap="round"/>
<line x1="1003.30" y1="316.80" x2="1019.70" y2="326.50" stroke="#1a1a1a" stroke-width="1.45" stroke-linecap="round"/>
<line x1="953.90" y1="290.60" x2="975.80" y2="278.50" stroke="#1a1a1a" stroke-width="1.45" stroke-linecap="round"/>
<line x1="953.90" y1="314.00" x2="975.80" y2="326.10" stroke="#1a1a1a" stroke-width="1.45" stroke-linecap="round"/>
<line x1="997.40" y1="290.30" x2="997.40" y2="314.50" stroke="#1a1a1a" stroke-width="1.45" stroke-linecap="round"/>
<line x1="1030.70" y1="278.50" x2="1052.60" y2="290.60" stroke="#1a1a1a" stroke-width="1.45" stroke-linecap="round"/>
<line x1="1038.40" y1="322.00" x2="1052.60" y2="314.00" stroke="#1a1a1a" stroke-width="1.45" stroke-linecap="round"/>
<text transform=" translate(1023.65,339.80) scale(1.0,1.045)" font-size="19.5" fill="#000">N</text>
<path transform=" translate(986.38,378.30) scale(0.01547,-0.01611)" d="M471,0 L763,0 L763,1466 L525,1466 C485,1380 405,1230 105,1083 L105,852 C255,900 385,980 471,1060 Z" fill="#000"/>
<text transform=" translate(1003.99,378.30) scale(0.96,0.97)" font-size="33" font-weight="bold" fill="#000">a</text>
<line x1="1165.10" y1="142.30" x2="1137.50" y2="157.40" stroke="#1a1a1a" stroke-width="1.45" stroke-linecap="round"/>
<line x1="1137.50" y1="157.40" x2="1137.50" y2="189.10" stroke="#1a1a1a" stroke-width="1.45" stroke-linecap="round"/>
<line x1="1137.50" y1="189.10" x2="1165.10" y2="204.20" stroke="#1a1a1a" stroke-width="1.45" stroke-linecap="round"/>
<line x1="1165.10" y1="204.20" x2="1193.30" y2="189.10" stroke="#1a1a1a" stroke-width="1.45" stroke-linecap="round"/>
<line x1="1193.30" y1="189.10" x2="1193.30" y2="157.40" stroke="#1a1a1a" stroke-width="1.45" stroke-linecap="round"/>
<line x1="1193.30" y1="157.40" x2="1165.10" y2="142.30" stroke="#1a1a1a" stroke-width="1.45" stroke-linecap="round"/>
<line x1="1193.30" y1="157.40" x2="1220.40" y2="142.30" stroke="#1a1a1a" stroke-width="1.45" stroke-linecap="round"/>
<line x1="1220.40" y1="142.30" x2="1247.70" y2="157.40" stroke="#1a1a1a" stroke-width="1.45" stroke-linecap="round"/>
<line x1="1247.70" y1="157.40" x2="1247.70" y2="189.10" stroke="#1a1a1a" stroke-width="1.45" stroke-linecap="round"/>
<line x1="1247.70" y1="189.10" x2="1230.70" y2="197.80" stroke="#1a1a1a" stroke-width="1.45" stroke-linecap="round"/>
<line x1="1193.30" y1="189.10" x2="1209.40" y2="197.80" stroke="#1a1a1a" stroke-width="1.45" stroke-linecap="round"/>
<line x1="1143.60" y1="161.00" x2="1165.10" y2="148.50" stroke="#1a1a1a" stroke-width="1.45" stroke-linecap="round"/>
<line x1="1143.60" y1="185.50" x2="1165.10" y2="197.40" stroke="#1a1a1a" stroke-width="1.45" stroke-linecap="round"/>
<line x1="1186.80" y1="160.60" x2="1186.80" y2="185.80" stroke="#1a1a1a" stroke-width="1.45" stroke-linecap="round"/>
<text transform=" translate(1213.05,212.00) scale(1.0,1.045)" font-size="19.5" fill="#000">N</text>
<text transform=" translate(1213.05,230.00) scale(1.0,1.045)" font-size="19.5" fill="#000">H</text>
<text transform=" translate(1177.92,257.60) scale(0.94,1.045)" font-size="33" font-weight="bold" fill="#000">2</text>
<text transform=" translate(1195.18,257.60) scale(0.94,0.97)" font-size="33" font-weight="bold" fill="#000">a</text>
<path d="M1088.20,274.30 C1089.80,275.18 1094.55,278.32 1097.80,279.60 C1101.05,280.88 1104.40,281.77 1107.70,282.00 C1111.00,282.23 1114.42,281.83 1117.60,281.00 C1120.78,280.17 1124.10,278.83 1126.80,277.00 C1129.50,275.17 1131.87,272.70 1133.80,270.00 C1135.73,267.30 1137.40,264.18 1138.40,260.80 C1139.40,257.42 1139.77,252.75 1139.80,249.70 C1139.83,246.65 1139.30,244.68 1138.60,242.50 C1137.90,240.32 1136.10,237.58 1135.60,236.60 L1132.3,237.6 L1132.3,224.2 L1143.6,224.2 L1142.30,228.00 C1142.75,229.13 1144.32,232.02 1145.00,234.80 C1145.68,237.58 1146.33,241.07 1146.40,244.70 C1146.47,248.33 1146.28,252.82 1145.40,256.60 C1144.52,260.38 1143.12,264.00 1141.10,267.40 C1139.08,270.80 1136.38,274.18 1133.30,277.00 C1130.22,279.82 1126.53,282.43 1122.60,284.30 C1118.67,286.17 1114.00,287.62 1109.70,288.20 C1105.40,288.78 1100.58,288.43 1096.80,287.80 C1093.02,287.17 1089.43,285.62 1087.00,284.40 C1084.57,283.18 1083.00,281.15 1082.20,280.50 Z" fill="url(#arrG)" stroke="#2e9ef6" stroke-width="1.9" stroke-linejoin="miter" filter="url(#shadow)"/>
</svg>
</body></html>
